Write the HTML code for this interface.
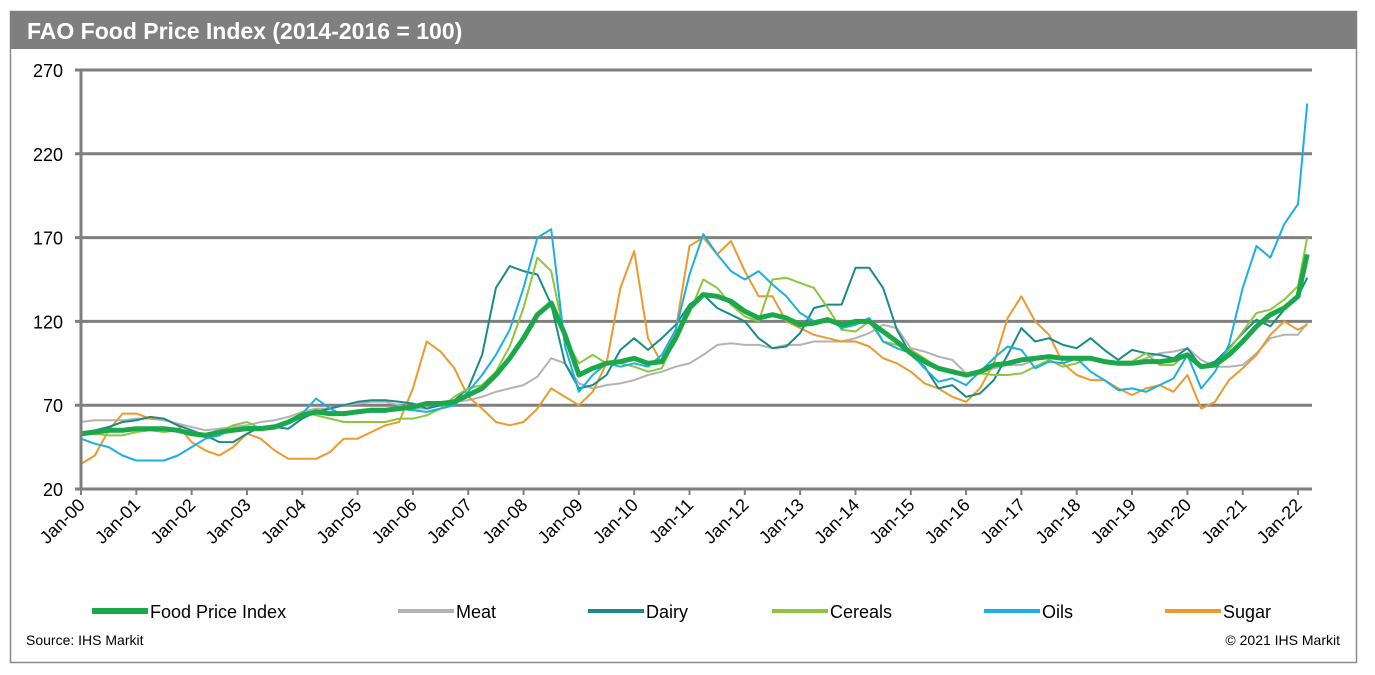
<!DOCTYPE html>
<html><head><meta charset="utf-8"><style>
body{margin:0;background:#fff;font-family:"Liberation Sans",Arial,sans-serif;}
#wrap{position:relative;width:1375px;height:675px;overflow:hidden;}
</style></head><body>
<div id="wrap">
<svg id="chart" width="1375" height="675" xmlns="http://www.w3.org/2000/svg">
<rect x="10.5" y="11.5" width="1346" height="651" fill="#fff" stroke="#8a8a8a" stroke-width="1.5"/>
<rect x="10" y="11" width="1347" height="38" fill="#7f7f7f"/>
<text x="27" y="39" fill="#fff" font-size="23" font-weight="bold">FAO Food Price Index (2014-2016 = 100)</text>
<g id="grid"></g><g id="series"></g><g id="axes"></g>
<g id="legend"></g>
<text x="26" y="645" font-size="14" fill="#000">Source: IHS Markit</text>
<text x="1340" y="645" font-size="14" fill="#000" text-anchor="end">© 2021 IHS Markit</text>
</svg>
</div>
<script>
const yTicks=[20,70,120,170,220,270];
const xTickLabels=["Jan-00","Jan-01","Jan-02","Jan-03","Jan-04","Jan-05","Jan-06","Jan-07","Jan-08","Jan-09","Jan-10","Jan-11","Jan-12","Jan-13","Jan-14","Jan-15","Jan-16","Jan-17","Jan-18","Jan-19","Jan-20","Jan-21","Jan-22"];
const seriesNames=["Food Price Index","Meat","Dairy","Cereals","Oils","Sugar"];
const foodIndex=[53,54,55,55,56,56,56,55,53,52,54,55,56,56,57,60,64,66,65,65,66,67,67,68,69,71,71,72,76,80,88,98,110,124,131,112,88,92,95,96,98,95,96,110,128,136,135,132,126,122,124,122,118,119,121,118,120,120,114,108,101,96,92,90,88,90,94,95,97,98,99,98,98,98,96,95,95,96,96,97,100,93,94,100,108,117,124,128,135,160];
const meat=[60,61,61,61,62,62,61,59,57,55,56,57,58,60,61,63,66,68,68,70,71,72,72,70,68,68,70,72,73,75,78,80,82,87,98,95,83,80,82,83,85,88,90,93,95,100,106,107,106,106,104,106,106,108,108,108,110,113,118,116,104,102,99,97,89,89,92,94,94,97,99,99,97,98,96,95,95,98,101,102,104,97,93,93,94,101,110,112,112,119];
const dairy=[52,55,57,60,61,63,62,58,55,52,48,48,53,57,57,56,62,66,68,70,72,73,73,72,71,68,70,73,80,100,140,153,150,148,130,95,80,82,88,103,110,103,110,118,130,136,128,124,120,110,104,105,113,128,130,130,152,152,140,115,100,93,80,82,75,77,85,100,116,108,110,106,104,110,103,97,103,101,100,98,104,93,96,104,113,121,117,127,135,146];
const cereals=[52,53,52,52,54,55,54,55,54,53,54,58,60,56,56,60,66,64,62,60,60,60,60,62,62,64,68,75,80,82,90,105,128,158,150,110,95,100,95,95,93,90,92,110,125,145,140,130,123,120,145,146,143,140,128,115,114,120,108,106,103,98,92,90,87,89,88,88,89,93,97,93,95,99,95,96,96,101,94,94,101,94,94,103,114,125,127,133,141,170];
const oils=[50,47,45,40,37,37,37,40,45,50,52,56,57,57,58,60,65,74,68,64,67,66,66,68,67,66,68,70,78,88,100,115,140,170,175,105,78,88,95,93,95,93,100,115,148,172,160,150,145,150,142,135,125,120,122,116,118,122,108,104,101,92,84,86,82,90,98,105,103,92,96,95,98,90,85,79,80,78,82,86,100,80,90,106,140,165,158,178,190,250];
const sugar=[35,40,55,65,65,62,62,58,48,43,40,45,53,50,43,38,38,38,42,50,50,54,58,60,80,108,102,92,75,68,60,58,60,68,80,75,70,78,95,140,162,110,95,115,165,170,160,168,150,135,135,120,116,112,110,108,108,105,98,95,90,83,80,75,72,80,95,122,135,120,112,95,88,85,85,80,76,80,82,78,88,68,72,85,92,100,112,120,115,118];
const colors=["#1aa84a","#b3b3b3","#1a8a8a","#8cc63f","#1ab0e0","#ec9a2d"];
const widths=[5,2,2,2,2,2];
const NS="http://www.w3.org/2000/svg";
const X0=81,XJ22=1298,Y20=489,Y270=70;
function xm(m){return X0+(XJ22-X0)*m/264;}
function yv(v){return Y20-(v-20)*(Y20-Y270)/250;}
function monthOf(i,n){return i===n-1?266:i*3;}
function mk(tag,attrs,parent){const e=document.createElementNS(NS,tag);for(const k in attrs)e.setAttribute(k,attrs[k]);parent.appendChild(e);return e;}
const grid=document.getElementById('grid'),axes=document.getElementById('axes'),sg=document.getElementById('series'),lg=document.getElementById('legend');
yTicks.forEach(t=>{
  if(t>20){const l=mk('line',{x1:75,x2:1312,y1:yv(t),y2:yv(t),stroke:'#7f7f7f','stroke-width':3},grid);
  
  }
  const tx=mk('text',{x:63,y:yv(t)+7,'font-size':18,'text-anchor':'end',fill:'#000'},axes);tx.textContent=t;
  
  
});
const ya=mk('line',{x1:X0,x2:X0,y1:Y270,y2:Y20,stroke:'#7f7f7f','stroke-width':3},axes);


const xa=mk('line',{x1:75,x2:1312,y1:Y20,y2:Y20,stroke:'#7f7f7f','stroke-width':3},axes);


xTickLabels.forEach((lab,i)=>{
  const x=xm(i*12);
  const tk=mk('line',{x1:x,x2:x,y1:Y20,y2:Y20+6,stroke:'#7f7f7f','stroke-width':2},axes);
  
  
  const tx=mk('text',{x:x+5,y:Y20+17,'font-size':18,'text-anchor':'end',fill:'#000',transform:`rotate(-45 ${x+5} ${Y20+17})`},axes);tx.textContent=lab;
  
  
});
const allSeries=[foodIndex,meat,dairy,cereals,oils,sugar];
const drawOrder=[1,5,2,3,4,0];
drawOrder.forEach(si=>{
  const d=allSeries[si];
  const pts=d.map((v,i)=>xm(monthOf(i,d.length)).toFixed(1)+','+yv(v).toFixed(1)).join(' ');
  const p=mk('polyline',{points:pts,fill:'none',stroke:colors[si],'stroke-width':widths[si],'stroke-linejoin':'round'},sg);
  
  
});
const legX=[92,398,588,772,984,1165];
seriesNames.forEach((n,i)=>{
  const l=mk('line',{x1:legX[i],x2:legX[i]+56,y1:611,y2:611,stroke:colors[i],'stroke-width':i===0?6:4},lg);
  
  
  const t=mk('text',{x:legX[i]+58,y:618,'font-size':18,fill:'#000'},lg);t.textContent=n;
  
  
});
</script>
</body></html>
